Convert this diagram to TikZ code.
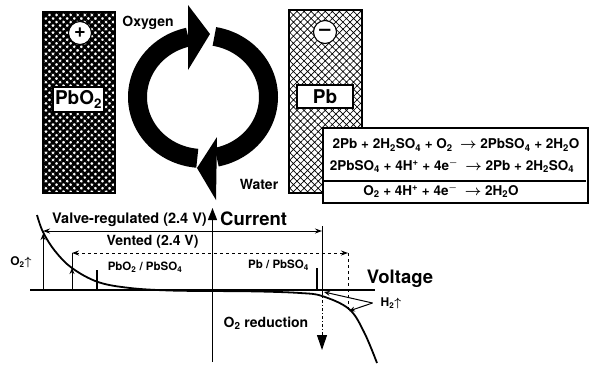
\documentclass[tikz,border=0pt]{standalone}
\usepackage{fontspec}
\setmainfont{TeX Gyre Heros}
\usetikzlibrary{arrows.meta,patterns.meta}

\begin{document}
\begin{tikzpicture}[x=1pt,y=-1pt,
  txt/.style={inner sep=0pt,font=\fontsize{#1}{#1}\selectfont\bfseries\boldmath},
  electrode/.style={draw,line width=1.2pt,inner sep=0pt},
  namebox/.style={draw,fill=white,line width=1.2pt,inner sep=0pt,txt=19},
  sign/.style={circle,draw,fill=white,line width=1.1pt,minimum size=23pt,inner sep=0pt,txt=20},
  ring/.style={line width=19pt},
  axis/.style={line width=1.3pt},
  guide/.style={line width=1pt},
  tip/.style={-{Stealth[length=6pt,width=5pt]}}
]
\useasboundingbox (0,0) rectangle (594,365);

\node[electrode,minimum width=72pt,minimum height=181pt,
  pattern={Hatch[angle=45,distance=5pt,line width=2.6pt]}] (pos) at (79,102.5) {};
\node[electrode,minimum width=73pt,minimum height=183pt,
  pattern={Hatch[angle=45,distance=5pt,line width=.7pt]}] (neg) at (325.5,101.5) {};
\node[sign] (plus) at (80,33) {+};
\node[sign] (minus) at (325,32) {--};
\node[namebox,minimum width=51pt,minimum height=25pt] (pbo2) at (78.5,99.5) {PbO\textsubscript{2}};
\node[namebox,minimum width=56pt,minimum height=23pt] (pb) at (325,96.5) {Pb};

% oxygen cycle
\draw[ring] plot[domain=95:257,samples=60] ({203+65.5*cos(\x)},{97+61.5*sin(\x)});
\draw[ring] plot[domain=-80:78,samples=60] ({203+65.5*cos(\x)},{97+61.5*sin(\x)});
\fill (188,5) -- (210,34) -- (188,70) -- cycle;
\fill (217,137) -- (197,168) -- (216,200) -- cycle;
\node[txt=14] (oxy) at (148,23) {Oxygen};
\node[txt=14] (water) at (259,184) {Water};

% reactions
\node[draw,fill=white,line width=1.2pt,minimum width=265pt,minimum height=75pt] (eqs) at (455.5,165.5) {};
\node[txt=13.5] (eq1) at (456,145) {2Pb + 2H\textsubscript{2}SO\textsubscript{4} + O\textsubscript{2} \ $\rightarrow$\ 2PbSO\textsubscript{4} + 2H\textsubscript{2}O};
\node[txt=13.5] (eq2) at (452,166) {2PbSO\textsubscript{4} + 4H\textsuperscript{+} + 4e\textsuperscript{$-$} \ $\rightarrow$\ 2Pb + 2H\textsubscript{2}SO\textsubscript{4}};
\draw[line width=1.2pt] ([xshift=2pt]eqs.west |- 0,181) -- ([xshift=-3pt]eqs.east |- 0,181);
\node[txt=13.5] (eq3) at (441,191) {O\textsubscript{2} + 4H\textsuperscript{+} + 4e\textsuperscript{$-$} \ $\rightarrow$\ 2H\textsubscript{2}O};

% current-voltage plot
\draw[axis] (30,290) -- (375,290);
\draw[axis,-{Triangle[length=12pt,width=9pt]}] (212.5,362) -- (212.5,208);
\node[txt=18.5,anchor=west] (cur) at (220,219) {Current};
\node[txt=18.5] (volt) at (400,279) {Voltage};
\node[txt=14.5,anchor=east] (valve) at (207,220) {Valve-regulated (2.4 V)};
\node[txt=14] (vent) at (152.5,242) {Vented (2.4 V)};
\node[txt=11.5] (pbo2pbso4) at (145,267) {PbO\textsubscript{2} / PbSO\textsubscript{4}};
\node[txt=11.5] (pbpbso4) at (278.5,265) {Pb / PbSO\textsubscript{4}};
\node[txt=12] (o2up) at (21,262) {O\textsubscript{2}$\uparrow$};
\node[txt=14] (o2red) at (266,323) {O\textsubscript{2} reduction};
\node[txt=12] (h2up) at (391,303) {H\textsubscript{2}$\uparrow$};

\draw[line width=1.8pt] plot[smooth,tension=0.6] coordinates {(37,215) (43,232) (55,251) (72,268) (98,282)
  (130,288) (170,290.5) (213,291) (260,291.5) (300,293) (322,296) (349,309) (364,332) (377,363)};

\coordinate (vl) at (43,231);
\coordinate (vr) at (322,231);
\draw[guide,{Stealth[length=7pt,width=5pt]}-{Stealth[length=7pt,width=5pt]}] (vl) -- (vr);
\draw[guide] (43,290) -- (vl);
\draw[guide,tip] (43,290) -- (43,234);
\draw[guide] (322,226) -- (322,292);
\draw[guide,dash dot,-{Triangle[length=15pt,width=10pt]}] (322,292) -- (322,350);

\coordinate (tl) at (72,253);
\coordinate (tr) at (348,253);
\draw[guide,dashed,{Stealth[length=7pt,width=5pt]}-{Stealth[length=7pt,width=5pt]}] (tl) -- (tr);
\draw[guide] (72,290) -- (tl);
\draw[guide,tip] (72,290) -- (72,268);
\draw[guide,dashed] (tr) -- (348,311);

\draw[line width=2.6pt] (97,270) -- (97,290);
\draw[line width=2.6pt] (317,268) -- (317,290);

\draw[guide,tip] ([xshift=-8pt]h2up.west) -- (324,292);
\draw[guide,tip] ([xshift=-8pt]h2up.west) -- (349,311);
\end{tikzpicture}
\end{document}
